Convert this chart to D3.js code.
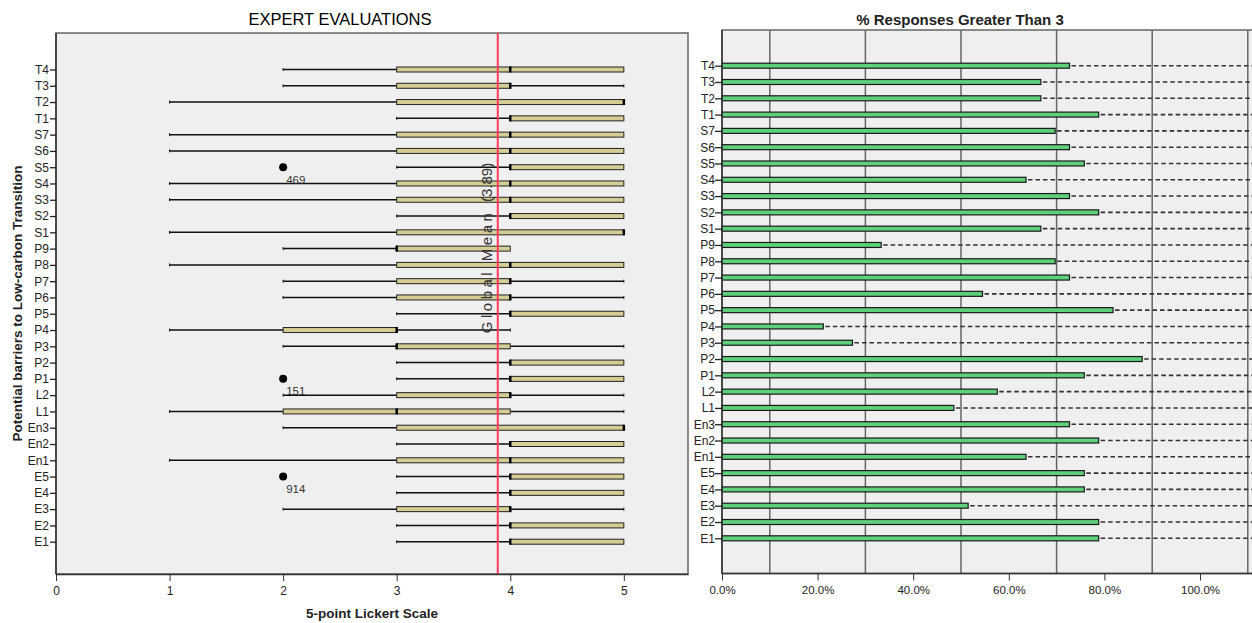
<!DOCTYPE html>
<html>
<head>
<meta charset="utf-8">
<script src="https://cdn.jsdelivr.net/npm/d3@7"></script>
<style>
  body { margin: 0; background: #fff; }
  text { font-family: "Liberation Sans", Arial, sans-serif; fill: #222; }
</style>
</head>
<body>
<div id="canvas"></div>
<script>
"use strict"

/* Data: barrier codes, top to bottom */
let barriers = ["T4", "T3", "T2", "T1", "S7", "S6", "S5", "S4", "S3", "S2", "S1",
    "P9", "P8", "P7", "P6", "P5", "P4", "P3", "P2", "P1", "L2", "L1",
    "En3", "En2", "En1", "E5", "E4", "E3", "E2", "E1"];

/* box plot five numbers (5-point Likert) */
let whiskerLow  = [2, 2, 1, 3, 1, 1, 3, 1, 1, 3, 1, 2, 1, 2, 2, 3, 1, 2, 3, 3, 2, 1, 2, 3, 1, 3, 3, 2, 3, 3];
let quart1      = [3, 3, 3, 4, 3, 3, 4, 3, 3, 4, 3, 3, 3, 3, 3, 4, 2, 3, 4, 4, 3, 2, 3, 4, 3, 4, 4, 3, 4, 4];
let medians     = [4, 4, 5, 4, 4, 4, 4, 4, 4, 4, 5, 3, 4, 4, 4, 4, 3, 3, 4, 4, 4, 3, 5, 4, 4, 4, 4, 4, 4, 4];
let quart3      = [5, 4, 5, 5, 5, 5, 5, 5, 5, 5, 5, 4, 5, 4, 4, 5, 3, 4, 5, 5, 4, 4, 5, 5, 5, 5, 5, 4, 5, 5];
let whiskerHigh = [5, 5, 5, 5, 5, 5, 5, 5, 5, 5, 5, 4, 5, 5, 5, 5, 4, 5, 5, 5, 5, 5, 5, 5, 5, 5, 5, 5, 5, 5];

let outliers = [
    { barrier: "S5", value: 2, id: "469" },
    { barrier: "P1", value: 2, id: "151" },
    { barrier: "E5", value: 2, id: "914" }
];

let globalMean = 3.89;

/* share of responses greater than 3 */
let pctGreater = [0.727, 0.667, 0.667, 0.788, 0.697, 0.727, 0.758, 0.636, 0.727, 0.788, 0.667,
    0.333, 0.697, 0.727, 0.545, 0.818, 0.212, 0.273, 0.879, 0.758, 0.576, 0.485,
    0.727, 0.788, 0.636, 0.758, 0.758, 0.515, 0.788, 0.788];

let likertTicks = [0, 1, 2, 3, 4, 5];
let pctTicks = [0, 0.2, 0.4, 0.6, 0.8, 1.0];
let pctGrid = [0.1, 0.3, 0.5, 0.7, 0.9, 1.1];

let boxData = barriers.map((b, i) => ({
    barrier: b,
    lo: whiskerLow[i], q1: quart1[i], med: medians[i], q3: quart3[i], hi: whiskerHigh[i]
}));
let barData = barriers.map((b, i) => ({ barrier: b, pct: pctGreater[i] }));

/* Drawing canvas */
let svgWidth = 1252;
let svgHeight = 623;

let svg = d3.select("#canvas")
    .append("svg")
    .attr("width", svgWidth)
    .attr("height", svgHeight);

/* ---------- left panel: expert evaluations ---------- */
let L = { left: 56, right: 688, top: 33, bottom: 574 };

let xLik = d3.scaleLinear()
    .domain([0, 5.565])
    .range([L.left, L.right]);

let yLeft = d3.scalePoint()
    .domain(barriers)
    .range([69.5, 541.7]);

svg.append("rect")
    .attr("x", L.left)
    .attr("y", L.top)
    .attr("width", L.right - L.left)
    .attr("height", L.bottom - L.top)
    .attr("fill", "#efefef")
    .attr("stroke", "#666")
    .attr("stroke-width", 1.5);

svg.append("text")
    .attr("x", 340)
    .attr("y", 25)
    .attr("text-anchor", "middle")
    .style("font-size", "16.5px")
    .style("fill", "#000")
    .text("EXPERT EVALUATIONS");

let boxH = 5;

let rows = svg.append("g").selectAll("g")
    .data(boxData)
    .join("g")
    .attr("transform", d => "translate(0," + yLeft(d.barrier) + ")");

/* whiskers */
rows.append("line")
    .attr("x1", d => xLik(d.lo))
    .attr("x2", d => xLik(d.q1))
    .attr("stroke", "#111")
    .attr("stroke-width", 1.5);

rows.append("line")
    .attr("x1", d => xLik(d.q3))
    .attr("x2", d => xLik(d.hi))
    .attr("stroke", "#111")
    .attr("stroke-width", 1.5);

/* whisker end caps */
rows.filter(d => d.lo < d.q1).append("line")
    .attr("x1", d => xLik(d.lo)).attr("x2", d => xLik(d.lo))
    .attr("y1", -1.5).attr("y2", 1.5)
    .attr("stroke", "#111");

rows.filter(d => d.hi > d.q3).append("line")
    .attr("x1", d => xLik(d.hi)).attr("x2", d => xLik(d.hi))
    .attr("y1", -1.5).attr("y2", 1.5)
    .attr("stroke", "#111");

/* boxes */
rows.filter(d => d.q3 > d.q1).append("rect")
    .attr("x", d => xLik(d.q1))
    .attr("y", -boxH / 2)
    .attr("width", d => xLik(d.q3) - xLik(d.q1))
    .attr("height", boxH)
    .attr("fill", "#d6cd94")
    .attr("stroke", "#222")
    .attr("stroke-width", 1);

/* medians */
rows.append("line")
    .attr("x1", d => xLik(d.med))
    .attr("x2", d => xLik(d.med))
    .attr("y1", -boxH / 2 - 0.5)
    .attr("y2", boxH / 2 + 0.5)
    .attr("stroke", "#000")
    .attr("stroke-width", 2.5);

/* outliers */
svg.selectAll(".outlier")
    .data(outliers)
    .join("circle")
    .attr("class", "outlier")
    .attr("cx", d => xLik(d.value))
    .attr("cy", d => yLeft(d.barrier))
    .attr("r", 4)
    .attr("fill", "#000");

svg.selectAll(".outlierLabel")
    .data(outliers)
    .join("text")
    .attr("class", "outlierLabel")
    .attr("x", d => xLik(d.value) + 3)
    .attr("y", d => yLeft(d.barrier) + 16.5)
    .style("font-size", "11.5px")
    .style("fill", "#333")
    .text(d => d.id);

/* global mean line */
svg.append("line")
    .attr("x1", xLik(globalMean))
    .attr("x2", xLik(globalMean))
    .attr("y1", L.top)
    .attr("y2", L.bottom)
    .attr("stroke", "#ff3a5c")
    .attr("stroke-width", 2);

let meanLabel = svg.append("text")
    .attr("transform", "translate(" + (xLik(globalMean) - 6) + ",248) rotate(-90)")
    .attr("text-anchor", "middle")
    .style("font-size", "15px")
    .style("fill", "#333");
meanLabel.append("tspan")
    .style("letter-spacing", "3.5px")
    .text("Global Mean ");
meanLabel.append("tspan")
    .text("(" + globalMean + ")");

/* axes */
svg.append("g")
    .attr("transform", "translate(0," + L.bottom + ")")
    .call(d3.axisBottom(xLik).tickValues(likertTicks).tickFormat(d3.format("d")).tickSize(7).tickSizeOuter(0))
    .call(g => g.select(".domain").attr("stroke", "#333").attr("stroke-width", 1.5))
    .call(g => g.selectAll(".tick line").attr("stroke", "#333"))
    .call(g => g.selectAll(".tick text").attr("dy", "0.95em").style("font-size", "12px").style("font-family", "Liberation Sans"));

svg.append("g")
    .attr("transform", "translate(" + L.left + ",0)")
    .call(d3.axisLeft(yLeft).tickSize(6).tickSizeOuter(0))
    .call(g => g.select(".domain").attr("d", "M0," + L.top + "V" + L.bottom).attr("stroke", "#333").attr("stroke-width", 1.5))
    .call(g => g.selectAll(".tick line").attr("stroke", "#222").attr("stroke-width", 1.3))
    .call(g => g.selectAll(".tick text").attr("x", -7).style("font-size", "12px").style("font-family", "Liberation Sans"));

svg.append("text")
    .attr("x", (L.left + L.right) / 2)
    .attr("y", 618)
    .attr("text-anchor", "middle")
    .style("font-size", "13.5px")
    .style("font-weight", "bold")
    .text("5-point Lickert Scale");

svg.append("text")
    .attr("transform", "translate(22," + (L.top + L.bottom) / 2 + ") rotate(-90)")
    .attr("text-anchor", "middle")
    .style("font-size", "13.5px")
    .style("font-weight", "bold")
    .text("Potential barriers to Low-carbon Transition");

/* ---------- right panel: % responses greater than 3 ---------- */
let R = { left: 722, right: 1253, top: 30, bottom: 573.5 };

let xPct = d3.scaleLinear()
    .domain([0, 1])
    .range([R.left, 1200]);

let yRight = d3.scalePoint()
    .domain(barriers)
    .range([65.7, 538.3]);

svg.append("rect")
    .attr("x", R.left)
    .attr("y", R.top)
    .attr("width", R.right - R.left)
    .attr("height", R.bottom - R.top)
    .attr("fill", "#efefef")
    .attr("stroke", "#666")
    .attr("stroke-width", 1.5);

svg.append("text")
    .attr("x", 960)
    .attr("y", 25)
    .attr("text-anchor", "middle")
    .style("font-size", "15px")
    .style("font-weight", "bold")
    .text("% Responses Greater Than 3");

/* vertical reference lines */
svg.selectAll(".grid")
    .data(pctGrid)
    .join("line")
    .attr("class", "grid")
    .attr("x1", d => xPct(d))
    .attr("x2", d => xPct(d))
    .attr("y1", R.top)
    .attr("y2", R.bottom)
    .attr("stroke", "#666")
    .attr("stroke-width", 1.5);

/* dashed remainder lines */
svg.selectAll(".dash")
    .data(barData)
    .join("line")
    .attr("class", "dash")
    .attr("x1", d => xPct(d.pct) + 2)
    .attr("x2", R.right)
    .attr("y1", d => yRight(d.barrier))
    .attr("y2", d => yRight(d.barrier))
    .attr("stroke", "#333")
    .attr("stroke-width", 1.6)
    .attr("stroke-dasharray", "4.5,3");

/* bars */
svg.selectAll(".bar")
    .data(barData)
    .join("rect")
    .attr("class", "bar")
    .attr("x", xPct(0))
    .attr("y", d => yRight(d.barrier) - 2.5)
    .attr("width", d => xPct(d.pct) - xPct(0))
    .attr("height", 5)
    .attr("fill", "#5fd07a")
    .attr("stroke", "#1a1a1a")
    .attr("stroke-width", 1.2);

svg.append("g")
    .attr("transform", "translate(0," + R.bottom + ")")
    .call(d3.axisBottom(xPct).tickValues(pctTicks).tickFormat(d3.format(".1%")).tickSize(7).tickSizeOuter(0))
    .call(g => g.select(".domain").attr("d", "M" + R.left + ",0H" + R.right).attr("stroke", "#333").attr("stroke-width", 1.5))
    .call(g => g.selectAll(".tick line").attr("stroke", "#333"))
    .call(g => g.selectAll(".tick text").attr("dy", "0.95em").style("font-size", "11.5px").style("font-family", "Liberation Sans"));

svg.append("g")
    .attr("transform", "translate(" + R.left + ",0)")
    .call(d3.axisLeft(yRight).tickSize(7).tickSizeOuter(0))
    .call(g => g.select(".domain").attr("d", "M0," + R.top + "V" + R.bottom).attr("stroke", "#333").attr("stroke-width", 1.5))
    .call(g => g.selectAll(".tick line").attr("stroke", "#222").attr("stroke-width", 1.3))
    .call(g => g.selectAll(".tick text").attr("x", -7).style("font-size", "12px").style("font-family", "Liberation Sans"));
</script>
</body>
</html>
